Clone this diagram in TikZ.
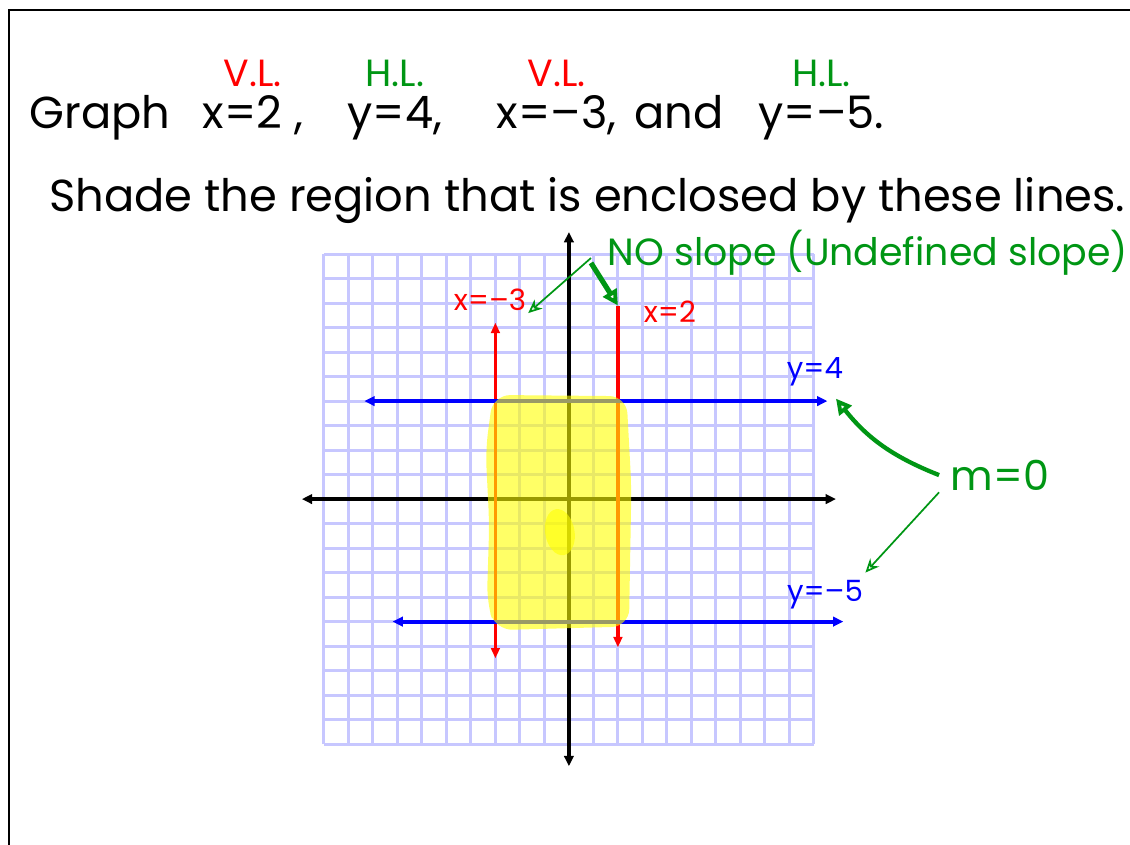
\documentclass[tikz,border=0pt]{standalone}
\usepackage{fontspec}
\setmainfont{Poppins}
\usetikzlibrary{arrows.meta,positioning}

\definecolor{pen}{RGB}{0,150,20}
\definecolor{marker}{RGB}{255,255,0}

\begin{document}
\begin{tikzpicture}[x=0.5cm, y=0.5cm,
  gridline/.style={draw=blue!22, line width=1.8pt},
  axisline/.style={<->, line width=2pt, >={Triangle[length=6pt,width=5.5pt]}},
  vline/.style={red, line width=2pt, >={Triangle[length=6pt,width=5pt]}},
  hline/.style={blue, line width=2.4pt, >={Triangle[length=6pt,width=5.5pt]}},
  hand/.style={font=\fontsize{26}{28}\selectfont, inner sep=1pt,
    text height=19pt, text depth=6pt},
  tag/.style={font=\fontsize{22}{24}\selectfont, inner sep=1pt},
  lbl/.style={font=\fontsize{17}{19}\selectfont, inner sep=1pt},
  pointer/.style={pen, line width=1pt, -{Stealth[open,length=8pt,width=7pt]}},
  bigpointer/.style={pen, line width=3pt, -{Triangle[open,length=9pt,width=9pt]}},
  hilite/.style={fill=marker, fill opacity=0.6, rounded corners=10pt}
]
  \useasboundingbox (-23.22,-14.08) rectangle (22.90,20.37);
  % page edge
  \draw[line width=1.2pt] (-22.86,-14.2) -- (-22.86,19.96) -- (23,19.96);

  % heading
  \node[hand] (graph) at (-19.14,15.6) {Graph};
  \node[hand] (eqa) at (-12.9,15.6) {x=2 ,};
  \node[hand] (eqb) at (-7.1,15.6) {y=4,};
  \node[hand] (eqc) at (-0.5,15.6) {x=–3,};
  \node[hand] (word) at (4.5,15.6) {and};
  \node[hand] (eqd) at (10.3,15.6) {y=–5.};
  \node[tag, red, above=0.1cm of eqa] (vla) {V.L.};
  \node[tag, pen, above=0.1cm of eqb] (hla) {H.L.};
  \node[tag, red, above=0.1cm of eqc] (vlb) {V.L.};
  \node[tag, pen, above=0.1cm of eqd] (hlb) {H.L.};
  \node[hand] (task) at (0.75,12.2) {Shade the region that is enclosed by these lines.};

  % grid and axes
  \draw[gridline, step=0.5cm] (-10,-10) grid (10,10);
  \draw[axisline] (-10.9,0) -- (10.9,0);
  \draw[axisline] (0,-10.9) -- (0,10.9);

  % the four lines
  \draw[vline, <->] (-3,-6.5) -- (-3,7.2);
  \draw[vline, ->] (2,7.9) -- (2,-6.05);
  \draw[hline, <->] (-8.35,4) -- (10.55,4);
  \draw[hline, <->] (-7.2,-5) -- (11.2,-5);

  % shaded region
  \path[hilite] (-3.1,4.25) -- (2.35,4.2) -- (2.55,0.5) -- (2.45,-5.2)
    -- (-3.0,-5.35) -- (-3.35,-4.2) -- (-3.25,-1) -- (-3.4,2) -- cycle;
  \fill[marker, fill opacity=0.6, rotate around={10:(-0.37,-1.35)}]
    (-0.37,-1.35) ellipse (0.6 and 0.95);

  % labels
  \node[lbl, red] (xm3) at (-3.22,8.12) {x=–3};
  \node[lbl, red] (xp2) at (4.12,7.63) {x=2};
  \node[lbl, blue] (yp4) at (10.04,5.18) {y=4};
  \node[lbl, blue] (ym5) at (10.45,-3.92) {y=–5};
  \node[lbl, pen, font=\fontsize{22}{24}\selectfont] (noslope) at (12.2,10.04)
    {NO slope (Undefined slope)};
  \node[lbl, pen, font=\fontsize{24}{26}\selectfont] (mzero) at (17.6,0.98) {m=0};

  \coordinate (x2top) at (2,7.9);
  \coordinate (y4tip) at (10.9,4.1);
  \coordinate (y5note) at (12.1,-3.0);

  % notes
  \draw[pointer] ([xshift=-0.3cm,yshift=-0.1cm]noslope.west) -- (xm3.south east);
  \draw[bigpointer] ([xshift=-0.3cm,yshift=-0.2cm]noslope.west) -- (x2top);
  \draw[bigpointer, line width=2.5pt] ([xshift=-0.2cm]mzero.west) to[bend left=15] (y4tip);
  \draw[pointer] ([xshift=-0.2cm]mzero.south west) -- (y5note);
\end{tikzpicture}
\end{document}
